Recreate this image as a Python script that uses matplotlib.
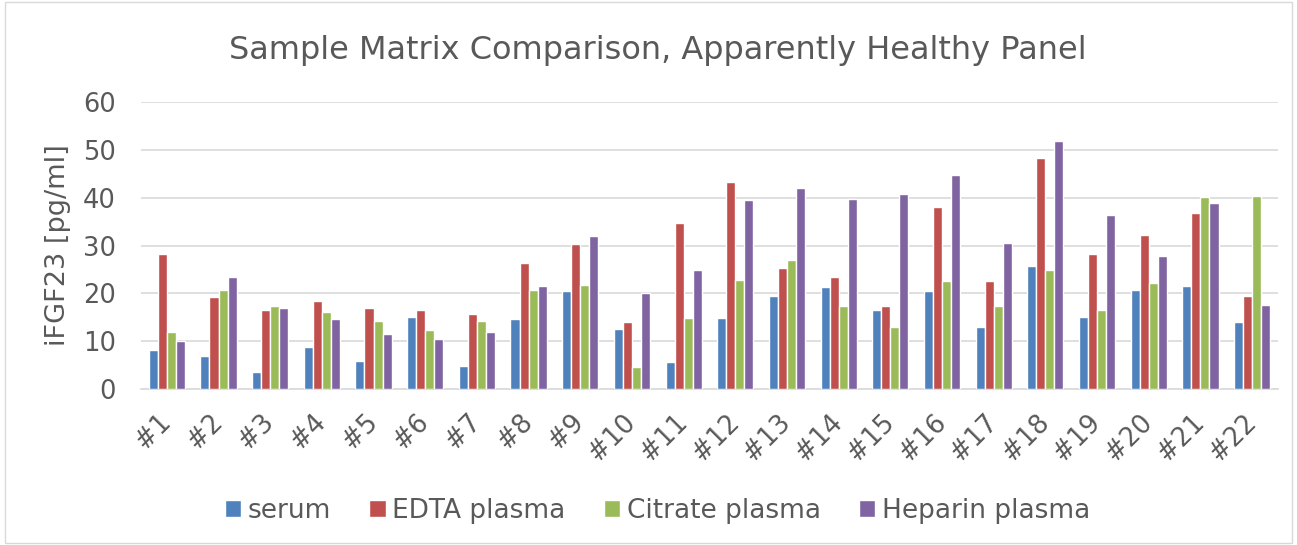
import matplotlib.pyplot as plt
import numpy as np
from matplotlib.patches import Rectangle

samples = ['#%d' % i for i in range(1, 23)]
serum = [8.2, 6.8, 3.5, 8.7, 5.8, 15.1, 4.9, 14.7, 20.4, 12.6, 5.6,
         14.8, 19.5, 21.3, 16.5, 20.4, 12.9, 25.7, 15.1, 20.8, 21.6, 14.0]
edta = [28.2, 19.3, 16.5, 18.4, 17.0, 16.5, 15.6, 26.3, 30.3, 14.0, 34.7,
        43.2, 25.2, 23.4, 17.3, 38.0, 22.6, 48.2, 28.3, 32.3, 36.8, 19.5]
citrate = [11.9, 20.7, 17.4, 16.1, 14.2, 12.4, 14.2, 20.7, 21.8, 4.6, 14.8,
           22.7, 27.0, 17.3, 12.9, 22.6, 17.3, 24.8, 16.5, 22.2, 40.2, 40.4]
heparin = [10.0, 23.5, 17.0, 14.7, 11.4, 10.5, 11.9, 21.6, 32.0, 20.1, 24.9,
           39.6, 42.0, 39.8, 40.7, 44.7, 30.5, 51.8, 36.3, 27.9, 38.9, 17.6]

series = [('serum', serum, '#4F81BD'),
          ('EDTA plasma', edta, '#C0504D'),
          ('Citrate plasma', citrate, '#9BBB59'),
          ('Heparin plasma', heparin, '#8064A2')]

txt = '#595959'
fig = plt.figure(figsize=(12.97, 5.45), dpi=100)
fig.patches.append(Rectangle((0.004, 0.004), 0.992, 0.992, transform=fig.transFigure,
                             fill=False, edgecolor='#D9D9D9', linewidth=1))
ax = fig.add_axes([0.1087, 0.2862, 0.8766, 0.5266])

x = np.arange(len(samples))
w = 0.175
for i, (name, vals, col) in enumerate(series):
    ax.bar(x + (i - 1.5) * w, vals, w, color=col, edgecolor='white',
           linewidth=1, label=name, zorder=3)

ax.set_xlim(-0.5, len(samples) - 0.5)
ax.set_ylim(0, 60)
ax.set_yticks(range(0, 61, 10))
ax.yaxis.grid(True, color='#D9D9D9', linewidth=1.2, zorder=0)
for s in ['top', 'right', 'left']:
    ax.spines[s].set_visible(False)
ax.spines['bottom'].set_color('#D9D9D9')
ax.spines['bottom'].set_linewidth(1.2)
ax.tick_params(axis='both', length=0, colors=txt, labelsize=18.5)
ax.tick_params(axis='y', pad=18)
ax.tick_params(axis='x', pad=21)
ax.set_xticks(x)
ax.set_xticklabels(samples, rotation=45, ha='right', va='center',
                   rotation_mode='anchor')

fig.text(0.045, 0.55, 'iFGF23 [pg/ml]', rotation=90, ha='center', va='center',
         color=txt, fontsize=19.5)
fig.text(0.507, 0.908, 'Sample Matrix Comparison, Apparently Healthy Panel',
         ha='center', va='center', color=txt, fontsize=23)
fig.legend(loc='center', bbox_to_anchor=(0.507, 0.063), ncol=4, frameon=False,
           fontsize=19, labelcolor=txt, handlelength=0.62, handleheight=0.62,
           handletextpad=0.25, columnspacing=1.45)

fig.savefig('out.png', dpi=100)
